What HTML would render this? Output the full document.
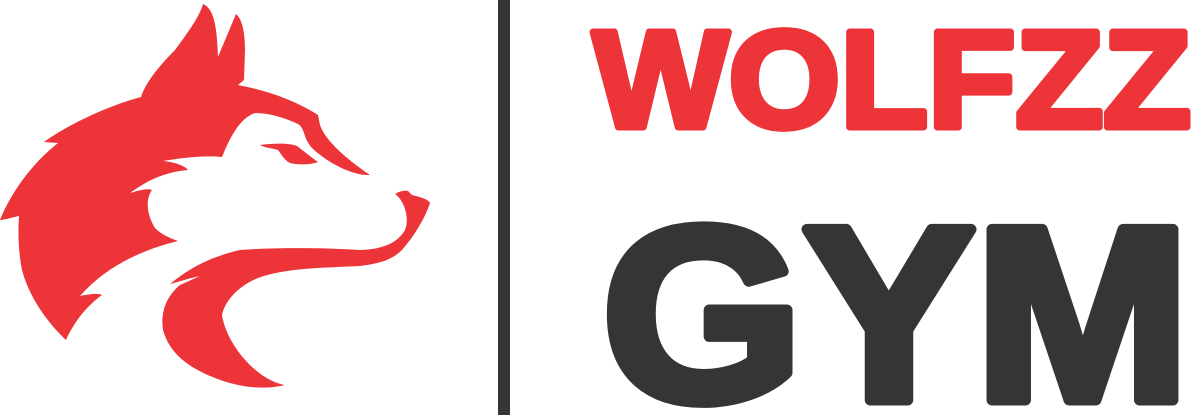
<!DOCTYPE html>
<html><head><meta charset="utf-8"><style>
html,body{margin:0;padding:0;background:#fff;width:1201px;height:415px;overflow:hidden}
svg{display:block;overflow:hidden}
</style></head><body>
<svg width="1201" height="415" viewBox="0 0 1201 415">
<g fill="#ec3439">
<path d="M203,4 C212,8 217,20 218,57 L236,14 C243,20 245,35 245,50 L244,80 L238,85 C265,90 295,100 318,115 L320,125 C325,140 345,158 370,175 C355,176 330,165 312,148 C303,138 305,128 298,124 C285,118 270,113 255,113 C240,118 230,137 222,157 C205,155 180,158 163,161 C175,162 185,166 188,170 C165,172 148,180 130,193 C140,190 148,188 152,190 C145,200 147,215 155,228 C162,235 170,238 178,241 C150,248 110,262 80,296 C90,294 98,293 102,295 C88,305 75,320 66,340 C50,325 30,300 22,270 C18,250 18,230 19,216 C10,218 4,220 0,220 C10,195 30,165 58,143 L44,142 C60,130 100,108 141,97 C145,85 155,70 175,50 C190,30 200,15 203,4 Z"/>
<path d="M260,145 C275,143 290,143 297,146 C305,152 312,158 318,162 C310,165 298,165 290,163 C284,160 282,155 278,150 C272,148 265,148 260,145 Z"/>
<path d="M170,284 C185,272 205,258 240,250 C280,247 330,248 360,250 C385,249 398,242 405,230 C410,218 404,200 395,194 C400,191 405,190 408,191 L412,195 C420,197 428,199 430,203 C425,218 415,235 402,250 C392,260 378,264 360,266 C320,268 285,268 258,278 C240,285 225,300 222,315 C225,335 240,358 258,372 C268,380 278,384 285,385 C265,390 240,388 215,378 C190,368 170,355 163,330 C160,310 168,295 180,285 L200,276 C190,278 178,282 170,284 Z"/>
</g>
<rect x="498" y="0" width="12" height="415" fill="#353535"/>
<text x="593" y="127" font-family="Liberation Sans, sans-serif" font-weight="bold" font-size="138" fill="#ec3439" stroke="#ec3439" stroke-width="7" stroke-linejoin="round" textLength="598" lengthAdjust="spacingAndGlyphs">WOLFZZ</text>
<text x="602" y="400" font-family="Liberation Sans, sans-serif" font-weight="bold" font-size="248" fill="#353535" stroke="#353535" stroke-width="11" stroke-linejoin="round" textLength="588" lengthAdjust="spacingAndGlyphs">GYM</text>
</svg>
</body></html>
